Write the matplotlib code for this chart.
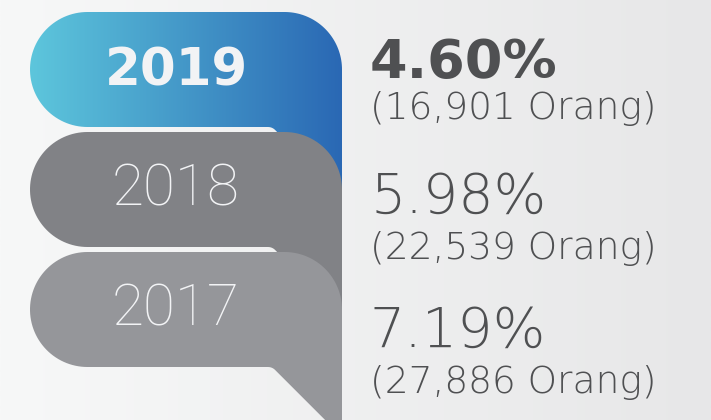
import numpy as np
import matplotlib
matplotlib.use("Agg")
import matplotlib.pyplot as plt
from matplotlib.patches import Polygon
from matplotlib.colors import to_rgb

# data
years = ["2019", "2018", "2017"]
rates = [4.60, 5.98, 7.19]
people = [16901, 22539, 27886]

tab_colors = [None, "#818286", "#95969a"]   # 2019 gets a gradient
grad_left, grad_right = "#5dc6dc", "#2a68b4"
txt_color = "#4f5052"
lbl_color = "#f2f3f5"

fig = plt.figure(figsize=(7.11, 4.2), dpi=100)
ax = fig.add_axes([0, 0, 1, 1])


def blend(c1, c2, n=256):
    a, b = np.array(to_rgb(c1)), np.array(to_rgb(c2))
    t = np.linspace(0, 1, n)[:, None]
    return a + (b - a) * t


# background
ax.imshow(blend("#f7f8f8", "#e7e7e8")[None, :, :], extent=(0, 711, 420, 0),
          aspect="auto", zorder=0)


def tab_shape(y0, h=115, x0=30, x1=342, knee=268, rr=10):
    r = h / 2
    t = np.linspace(np.pi / 2, 3 * np.pi / 2, 60)
    left = np.c_[x0 + r + r * np.cos(t), y0 + r + r * np.sin(t)]
    t2 = np.linspace(3 * np.pi / 2, 2 * np.pi, 40)
    tr = np.c_[x1 - r + r * np.cos(t2), y0 + r + r * np.sin(t2)]
    yb = y0 + h
    t3 = np.linspace(np.pi / 4, 0, 12)
    arc = np.c_[knee + rr * np.sin(t3), yb + rr - rr * np.cos(t3)]
    ex, ey = arc[0]
    tail = np.array([[x1, ey + (x1 - ex)]])
    return np.vstack([left, tr, tail, arc])


tops = [12, 132, 252]
for i, yr in enumerate(years):
    pts = tab_shape(tops[i])
    if tab_colors[i] is None:
        poly = Polygon(pts, closed=True, fc="none", ec="none", zorder=1 + i)
        ax.add_patch(poly)
        im = ax.imshow(blend(grad_left, grad_right)[None, :, :],
                       extent=(30, 342, 230, 0), aspect="auto", zorder=1 + i)
        im.set_clip_path(poly)
    else:
        ax.add_patch(Polygon(pts, closed=True, fc=tab_colors[i], ec="none",
                             zorder=1 + i))

# year labels
lbl_base = [85, 205, 326]
for i, yr in enumerate(years):
    if i == 0:
        ax.text(176, lbl_base[i], yr, ha="center", va="baseline", color=lbl_color,
                fontsize=37, family="DejaVu Sans", weight="bold", zorder=10)
    else:
        ax.text(176, lbl_base[i], yr, ha="center", va="baseline", color=lbl_color,
                fontsize=42, family="Roboto", weight="light", zorder=10)

# values on the right
big_base = [78, 213, 347]
small_base = [119, 259, 393]
for i in range(len(years)):
    if i == 0:
        ax.text(370, big_base[i], f"{rates[i]:.2f}%", ha="left", va="baseline",
                color=txt_color, fontsize=39, family="DejaVu Sans", weight="bold")
    else:
        ax.text(370, big_base[i], f"{rates[i]:.2f}%", ha="left", va="baseline",
                color=txt_color, fontsize=40, family="DejaVu Sans", weight="light")
    ax.text(370, small_base[i], f"({people[i]:,} Orang)", ha="left", va="baseline",
            color=txt_color, fontsize=27, family="DejaVu Sans", weight="light")

ax.set_xlim(0, 711)
ax.set_ylim(420, 0)
ax.axis("off")
fig.savefig("out.png", dpi=100)
